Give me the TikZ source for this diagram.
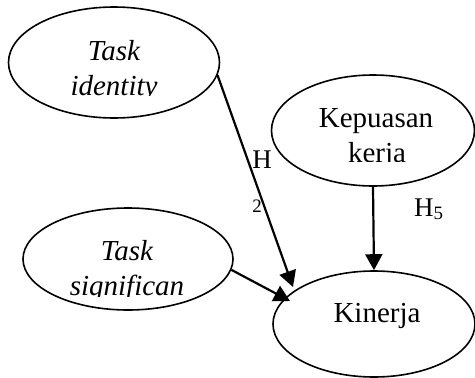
\documentclass[tikz,border=0pt]{standalone}
\usepackage{fontspec}
\setmainfont{Liberation Serif}
\usetikzlibrary{shapes.geometric,arrows.meta}
\tikzset{
  var/.style={ellipse, draw, line width=1.6pt, inner sep=0pt},
  lbl/.style={anchor=base, inner sep=0pt, font=\fontsize{29}{35}\selectfont},
  path/.style={line width=2.2pt, -{Triangle[length=16pt,width=17pt]}},
  hyp/.style={anchor=base, inner sep=0pt, font=\fontsize{27}{32}\selectfont},
}
\begin{document}
\begin{tikzpicture}[x=1pt,y=-1pt]
\useasboundingbox (0,0) rectangle (475,378);
\fill[white] (0,0) rectangle (475,378);

% variable ellipses
\node[var, minimum width=211pt, minimum height=111pt] (ti) at (114,62.5) {};
\node[var, minimum width=203pt, minimum height=111pt] (kk) at (373,130.5) {};
\node[var, minimum width=210pt, minimum height=102pt] (ts) at (128,259) {};
\node[var, minimum width=202pt, minimum height=106pt] (ki) at (374,324) {};

% labels, cut off at the lower edge of their text boxes
\begin{scope}
  \clip (10,20) rectangle (220,95.5);
  \node[lbl] (ti1) at (114,60) {\itshape Task};
  \node[lbl] (ti2) at (114,95) {\itshape identity};
\end{scope}
\begin{scope}
  \clip (275,90) rectangle (470,161);
  \node[lbl] (kk1) at (376,127) {Kepuasan};
  \node[lbl] (kk2) at (377,162.5) {kerja};
\end{scope}
\begin{scope}
  \clip (25,220) rectangle (230,296.5);
  \node[lbl] (ts1) at (127,260) {\itshape Task};
  \node[lbl] (ts2) at (127,295.5) {\itshape significan};
\end{scope}
\node[lbl] (ki1) at (377,322) {Kinerja};

% arrow tips on Kinerja
\coordinate (t1) at (293,287);
\coordinate (t2) at (290,301);

% paths
\draw[path] (ti.-7.5) -- (t1);
\draw[path] (ts.-6) -- (t2);
\draw[path] (kk.south) -- (ki.north);

% hypothesis labels
\node[hyp] (h2a) at (262,168) {H};
\node[anchor=base, inner sep=0pt, font=\fontsize{19}{22}\selectfont] (h2b) at (257,212) {2};
\node[hyp, anchor=base west] (h5) at (414,216) {H\textsubscript{5}};
\end{tikzpicture}
\end{document}
